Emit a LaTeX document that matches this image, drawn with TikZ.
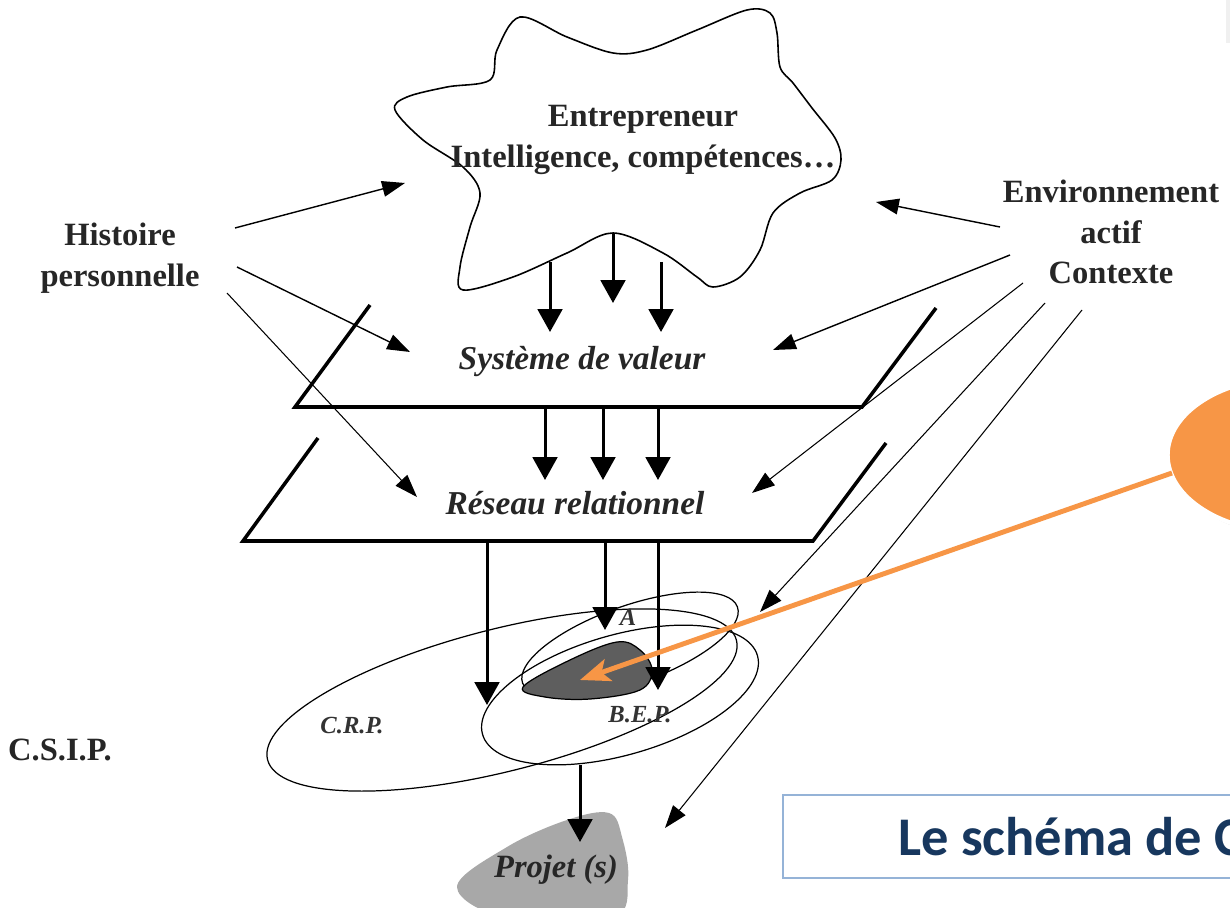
\documentclass[tikz,border=0pt]{standalone}
\usepackage{fontspec}
\setmainfont{Liberation Serif}
\newfontfamily\titlefont{Carlito}
\usepackage{tikz}
\usetikzlibrary{positioning, arrows.meta, shapes.geometric, shadows}

\definecolor{calloutorange}{HTML}{F79646}
\definecolor{titleblue}{HTML}{17375E}
\definecolor{boxblue}{HTML}{95B3D7}
\definecolor{spotgray}{HTML}{5E5E5E}
\definecolor{projgray}{HTML}{A8A8A8}

\begin{document}
\begin{tikzpicture}[
    x=0.02cm, y=-0.02cm, % one unit = one pixel of the original
    lnode/.style={font=\fontsize{18.5}{23}\selectfont\bfseries, align=center, inner sep=0pt, text=black!85},
    pnode/.style={font=\fontsize{19}{23}\selectfont\bfseries\itshape, inner sep=0pt, text=black!85},
    snode/.style={font=\fontsize{14}{16}\selectfont\bfseries\itshape, inner sep=0pt, text=black!80},
    bigarrow/.style={-{Triangle[length=13pt, width=14pt]}, line width=1.7pt},
    thinarrow/.style={-{Triangle[length=13pt, width=9pt]}, line width=0.8pt},
    planestyle/.style={line width=2pt, line join=miter},
    ringstyle/.style={line width=0.7pt}
]

\fill[white] (0,0) rectangle (1230,908);
\useasboundingbox (0,0) rectangle (1230,908);
\fill[gray!12] (1226,0) rectangle (1232,43);

% Cloud
\draw[line width=0.9pt, fill=white] plot[smooth cycle, tension=0.55] coordinates {
    (520,17) (567,37) (613,53) (647,50) (697,30) (747,10) (770,13) (777,33)
    (780,67) (793,83) (812,108) (835,138) (841,160) (832,180) (800,193)
    (773,213) (760,250) (740,277) (713,287) (697,277) (663,253) (613,233)
    (567,253) (513,277) (463,290) (460,267) (470,227) (480,193) (463,167)
    (423,140) (395,110) (407,97) (447,87) (490,80) (497,50)};
\node[lnode] (entre) at (643,140) {Entrepreneur\\Intelligence, compétences…};

% Side labels
\node[lnode] (hist) at (120,258) {Histoire\\personnelle};
\node[lnode] (env) at (1111,232) {Environnement\\actif\\Contexte};
\node[lnode] (csip) at (60,750) {C.S.I.P.};

% Planes
\draw[planestyle] (370,305) -- (295,407) -- (862,407) -- (936,308);
\draw[planestyle] (318,438) -- (243,541) -- (813,541) -- (886,443);
\node[pnode] (sys) at (582,362) {Système de valeur};
\node[pnode] (res) at (575,503) {Réseau relationnel};

% Vertical flows
\foreach \i/\x/\ya/\yb in {1/550/262/332, 2/613/233/303, 3/661/262/332} {
    \coordinate (cloudout\i) at (\x,\ya);
    \coordinate (sysin\i) at (\x,\yb);
    \draw[bigarrow] (cloudout\i) -- (sysin\i);
}
\foreach \i/\x in {1/545, 2/603, 3/658} {
    \coordinate (sysout\i) at (\x,407);
    \coordinate (resin\i) at (\x,480);
    \draw[bigarrow] (sysout\i) -- (resin\i);
}

% Ellipses
\draw[ringstyle, fill=white] (502,700) ellipse [x radius=4.84cm, y radius=1.42cm, rotate=14.3];
\draw[ringstyle] (620,695) ellipse [x radius=2.86cm, y radius=1.2cm, rotate=16];
\draw[ringstyle] (630,645) ellipse [x radius=2.28cm, y radius=0.78cm, rotate=19.5];
\draw[ringstyle, fill=spotgray] plot[smooth cycle, tension=0.6] coordinates {
    (523,687) (570,660) (617,642) (640,650) (652,670) (640,690) (590,699) (545,697)};
\node[snode] (crp) at (352,726) {C.R.P.};
\node[snode] (bep) at (640,715) {B.E.P.};
\node[snode] (alab) at (628,617) {A};

\coordinate (resout1) at (487,541);
\coordinate (resout2) at (605,541);
\coordinate (resout3) at (658,541);
\coordinate (crpin) at (487,705);
\coordinate (ain) at (605,630);
\coordinate (bepin) at (658,690);
\draw[bigarrow] (resout1) -- (crpin);
\draw[bigarrow] (resout2) -- (ain);
\draw[bigarrow] (resout3) -- (bepin);

% Project
\fill[projgray] plot[smooth cycle, tension=0.6] coordinates {
    (457,887) (507,847) (567,820) (609,813) (622,837) (628,880) (612,918) (507,918)};
\node[pnode, font=\fontsize{18.5}{22}\selectfont\bfseries\itshape] (proj) at (556,870) {Projet (s)};
\coordinate (bepout) at (580,765);
\coordinate (projin) at (580,842);
\draw[bigarrow] (bepout) -- (projin);

% Histoire personnelle arrows
\coordinate (hist1) at (235,228);
\coordinate (hist2) at (237,267);
\coordinate (hist3) at (227,293);
\coordinate (tocloud) at (405,183);
\coordinate (tosysl) at (410,352);
\coordinate (toresl) at (417,497);
\draw[thinarrow] (hist1) -- (tocloud);
\draw[thinarrow] (hist2) -- (tosysl);
\draw[thinarrow, line width=0.6pt] (hist3) -- (toresl);

% Environnement arrows
\coordinate (env1) at (1000,227);
\coordinate (env2) at (1010,255);
\coordinate (env3) at (1023,283);
\coordinate (env4) at (1045,303);
\coordinate (env5) at (1082,310);
\coordinate (tocloudr) at (876,202);
\coordinate (tosysr) at (773,350);
\coordinate (toresr) at (752,493);
\coordinate (toa) at (760,612);
\coordinate (toproj) at (665,828);
\draw[thinarrow] (env1) -- (tocloudr);
\draw[thinarrow] (env2) -- (tosysr);
\draw[thinarrow, line width=0.6pt] (env3) -- (toresr);
\draw[thinarrow, line width=0.6pt] (env4) -- (toa);
\draw[thinarrow, line width=0.6pt] (env5) -- (toproj);

% Callout
\node[ellipse, fill=calloutorange, draw=white, line width=2.5pt, minimum width=4.9cm, minimum height=3.1cm,
      drop shadow={opacity=0.35, shadow xshift=2pt, shadow yshift=-2pt}] (callout) at (1290,455) {};
\coordinate (calloutfoot) at (1172,473);
\coordinate (spot) at (580,680);
\draw[calloutorange, line width=2.8pt, -{Stealth[length=17pt, width=13pt, inset=4pt]}] (calloutfoot) -- (spot);

% Title box
\draw[boxblue, line width=0.9pt, fill=white] (783,795) rectangle (1300,878);
\node[font=\titlefont\bfseries\fontsize{31}{36}\selectfont, text=titleblue, anchor=base west, inner sep=0pt] (title) at (898,855) {Le schéma de C};

\end{tikzpicture}
\end{document}
